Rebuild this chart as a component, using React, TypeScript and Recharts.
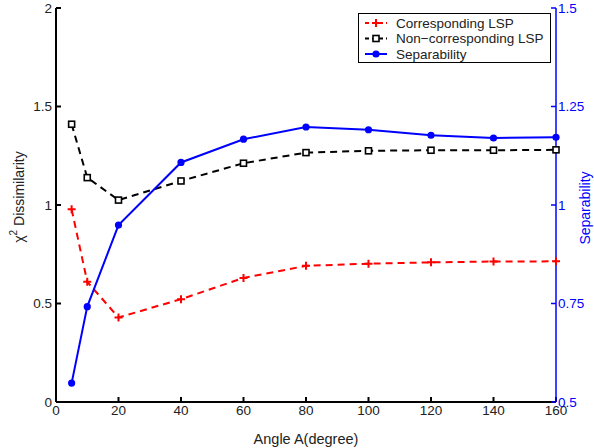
import React from "react";
import { LineChart, Line, XAxis, YAxis } from "recharts";

const angles = [5, 10, 20, 40, 60, 80, 100, 120, 140, 160];
const corresponding = [0.978, 0.61, 0.429, 0.522, 0.63, 0.691, 0.702, 0.709, 0.713, 0.714];
const nonCorresponding = [1.41, 1.139, 1.025, 1.122, 1.212, 1.266, 1.275, 1.278, 1.278, 1.28];
const separability = [0.548, 0.742, 0.949, 1.108, 1.167, 1.198, 1.191, 1.177, 1.17, 1.172];

const xTicks = [0, 20, 40, 60, 80, 100, 120, 140, 160];
const leftTicks = [0, 0.5, 1, 1.5, 2];
const rightTicks = [0.5, 0.75, 1, 1.25, 1.5];

const data = angles.map((a, i) => ({
  angle: a,
  corr: corresponding[i],
  nonCorr: nonCorresponding[i],
  sep: separability[i],
}));

const FONT = "'Liberation Sans', Arial, Helvetica, sans-serif";
const BLUE = "#0000ff";
const RED = "#ff0000";

// marker shapes
const PlusDot = ({ cx, cy }: any) => (
  <path
    d={`M${cx - 4},${cy}H${cx + 4}M${cx},${cy - 4}V${cy + 4}`}
    stroke={RED}
    strokeWidth={2}
  />
);

const SquareDot = ({ cx, cy }: any) => (
  <rect x={cx - 3} y={cy - 3} width={6} height={6} fill="#fff" stroke="#000" strokeWidth={1.6} />
);

const CircleDot = ({ cx, cy }: any) => <circle cx={cx} cy={cy} r={3.6} fill={BLUE} />;

const legendItems = [
  { label: "Corresponding LSP", color: RED, dash: "4 3", marker: "plus" },
  { label: "Non\u2212corresponding LSP", color: "#000", dash: "4 3", marker: "square" },
  { label: "Separability", color: BLUE, dash: undefined, marker: "circle" },
];

const LegendBox = () => (
  <svg width={193} height={50} style={{ display: "block" }}>
    <rect x={0.5} y={0.5} width={192} height={49} fill="#fff" stroke="#000" strokeWidth={1} />
    {legendItems.map((it, i) => {
      const y = 10 + i * 15.5;
      const cx = 18;
      return (
        <g key={it.label}>
          <line x1={7} x2={29} y1={y} y2={y} stroke={it.color} strokeWidth={2} strokeDasharray={it.dash} />
          {it.marker === "plus" && <PlusDot cx={cx} cy={y} />}
          {it.marker === "square" && <SquareDot cx={cx} cy={y} />}
          {it.marker === "circle" && <CircleDot cx={cx} cy={y} />}
          <text x={38} y={y + 4.5} fontSize={13.5} fontFamily={FONT} fill="#222">
            {it.label}
          </text>
        </g>
      );
    })}
  </svg>
);

const LeftTitle = ({ viewBox }: any) => {
  const cx = viewBox.x + 8;
  const cy = viewBox.y + viewBox.height / 2 - 8;
  return (
    <text
      x={cx}
      y={cy}
      transform={`rotate(-90, ${cx}, ${cy})`}
      textAnchor="middle"
      fontSize={14}
      fontFamily={FONT}
      fill="#222"
    >
      {"\u03c7"}
      <tspan fontSize={10} dy={-7}>2</tspan>
      <tspan dy={7}> Dissimilarity</tspan>
    </text>
  );
};

const RightTitle = ({ viewBox }: any) => {
  const cx = viewBox.x + viewBox.width + 4;
  const cy = viewBox.y + viewBox.height / 2 + 3;
  return (
    <text
      x={cx}
      y={cy}
      transform={`rotate(-90, ${cx}, ${cy})`}
      textAnchor="middle"
      fontSize={14}
      fontFamily={FONT}
      fill={BLUE}
    >
      Separability
    </text>
  );
};

const tickStyle = { fontSize: 13.5, fontFamily: FONT, fill: "#222" };

export default function App() {
  return (
    <div style={{ position: "absolute", left: 0, top: 0, width: 594, height: 448, background: "#fff" }}>
      <LineChart
        width={594}
        height={448}
        data={data}
        margin={{ top: 8, right: 8, left: 16, bottom: 16 }}
      >
        <XAxis
          xAxisId="bottom"
          dataKey="angle"
          type="number"
          domain={[0, 160]}
          ticks={xTicks}
          height={30}
          stroke="#000"
          strokeWidth={2}
          tickSize={-5}
          tickMargin={8}
          tick={tickStyle}
          label={{
            value: "Angle A(degree)",
            position: "insideBottom",
            offset: -12,
            style: { fontSize: 14.5, fontFamily: FONT, fill: "#222" },
          }}
        />
        <XAxis
          xAxisId="top"
          dataKey="angle"
          type="number"
          orientation="top"
          domain={[0, 160]}
          ticks={xTicks}
          height={0}
          stroke="#000"
          strokeWidth={1}
          tickSize={-5}
          tick={false}
        />
        <YAxis
          yAxisId="left"
          orientation="left"
          domain={[0, 2]}
          ticks={leftTicks}
          width={40}
          stroke="#000"
          strokeWidth={2}
          tickSize={-5}
          tickMargin={9}
          tick={tickStyle}
          label={<LeftTitle />}
        />
        <YAxis
          yAxisId="right"
          orientation="right"
          domain={[0.5, 1.5]}
          ticks={rightTicks}
          width={30}
          stroke={BLUE}
          strokeWidth={1.5}
          tickSize={-5}
          tickMargin={7}
          tick={{ ...tickStyle, fill: BLUE }}
          label={<RightTitle />}
        />
        <Line
          xAxisId="bottom"
          yAxisId="left"
          dataKey="corr"
          stroke={RED}
          strokeWidth={2}
          strokeDasharray="7 5"
          dot={<PlusDot />}
          activeDot={false}
          isAnimationActive={false}
        />
        <Line
          xAxisId="bottom"
          yAxisId="left"
          dataKey="nonCorr"
          stroke="#000"
          strokeWidth={2}
          strokeDasharray="7 5"
          dot={<SquareDot />}
          activeDot={false}
          isAnimationActive={false}
        />
        <Line
          xAxisId="bottom"
          yAxisId="right"
          dataKey="sep"
          stroke={BLUE}
          strokeWidth={2}
          dot={<CircleDot />}
          activeDot={false}
          isAnimationActive={false}
        />
      </LineChart>
      <div style={{ position: "absolute", top: 13, left: 358 }}>
        <LegendBox />
      </div>
    </div>
  );
}
